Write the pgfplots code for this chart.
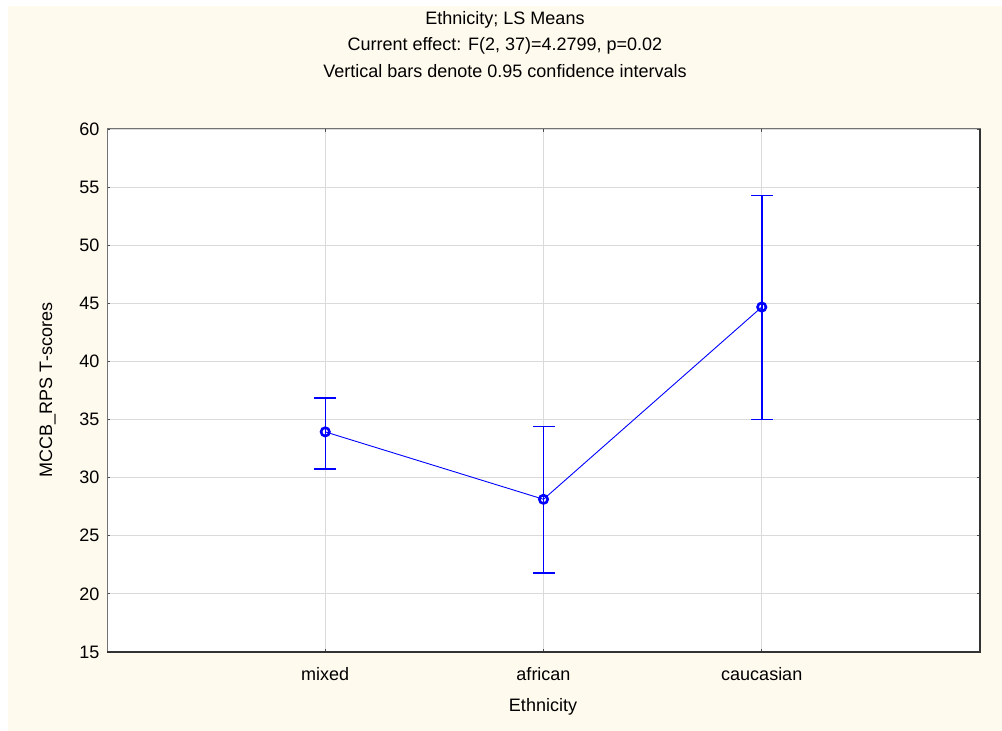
\documentclass[border=0pt]{standalone}
\usepackage{fontspec}
\setmainfont{Liberation Sans}
\usepackage{pgfplots}
\pgfplotsset{compat=1.18}
\definecolor{cream}{RGB}{255,250,238}
\definecolor{gridgray}{RGB}{218,218,218}
\definecolor{meanblue}{RGB}{0,0,255}
\pgfplotstableread{
x lo mean hi
1 30.74 33.94 36.84
2 21.79 28.14 34.42
3 35.00 44.68 54.28
}\cidata
\begin{document}
\begin{tikzpicture}[x=1pt,y=1pt]
\path[fill=white] (0,0) rectangle (1002,731);
\fill[cream] (8,0) rectangle (1002,725);
\node[anchor=base,font=\fontsize{18}{22}\selectfont] at (505,706) {Ethnicity; LS Means};
\node[anchor=base,font=\fontsize{18}{22}\selectfont] at (505,680) {Current effect: F(2, 37)=4.2799, p=0.02};
\node[anchor=base,font=\fontsize{18}{22}\selectfont] at (505,653) {Vertical bars denote 0.95 confidence intervals};
\node[anchor=base,font=\fontsize{18}{22}\selectfont] at (543,19) {Ethnicity};
\node[rotate=90,anchor=base,font=\fontsize{18}{22}\selectfont] at (52,341) {MCCB\_RPS T-scores};
\begin{axis}[
  at={(107pt,79pt)}, anchor=south west,
  scale only axis, width=873pt, height=523pt,
  xmin=0, xmax=4, ymin=15, ymax=60,
  xtick={1,2,3}, xticklabels={mixed,african,caucasian},
  ytick={15,20,25,30,35,40,45,50,55,60},
  grid=major, grid style={gridgray, line width=0.8pt},
  axis background/.style={fill=white},
  axis line style={draw=black!55, line width=1pt},
  tick style={black!70, line width=0.8pt},
  major tick length=3pt,
  tick align=inside,
  font=\fontsize{18}{22}\selectfont,
  /pgf/number format/assume math mode=true,
  yticklabel style={xshift=-4pt},
  xticklabel style={yshift=-12pt},
  clip=false,
]
% confidence interval bars
\addplot[color=meanblue, line width=1.5pt, forget plot] coordinates {(1,30.74) (1,36.84)};
\addplot[color=meanblue, line width=1.5pt, forget plot] coordinates {(2,21.79) (2,34.42)};
\addplot[color=meanblue, line width=1.5pt, forget plot] coordinates {(3,35.00) (3,54.28)};
% caps
\addplot[color=meanblue, only marks, mark=-, mark size=11pt, mark options={line width=1.5pt}, forget plot]
  table[x=x, y=lo] {\cidata};
\addplot[color=meanblue, only marks, mark=-, mark size=11pt, mark options={line width=1.5pt}, forget plot]
  table[x=x, y=hi] {\cidata};
% means
\addplot[color=meanblue, line width=0.9pt, mark=o, mark size=4.2pt,
  mark options={line width=2.6pt, solid}]
  table[x=x, y=mean] {\cidata};
\draw[black!80, line width=2pt] (rel axis cs:0,0) -- (rel axis cs:1,0) -- (rel axis cs:1,1);
\end{axis}
\end{tikzpicture}
\end{document}
